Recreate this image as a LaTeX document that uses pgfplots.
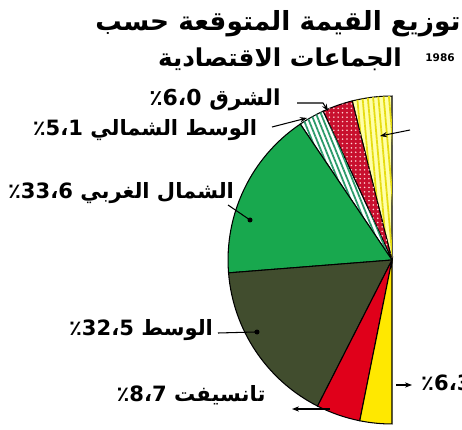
\documentclass[border=0pt]{standalone}
\usepackage{fontspec}
\usepackage{pgfplots}
\usepackage{pgfplotstable}
\pgfplotsset{compat=1.18}
\usetikzlibrary{patterns.meta,arrows.meta}
\TeXXeTstate=1
\newfontfamily\arabicfont[Script=Arabic]{DejaVu Sans}

\definecolor{ylight}{HTML}{FFFFA8}
\definecolor{ystripe}{HTML}{E6DC10}
\definecolor{dotred}{HTML}{C8102E}
\definecolor{tealline}{HTML}{2A9A6A}
\definecolor{pgreen}{HTML}{18A84E}
\definecolor{polive}{HTML}{414D2E}
\definecolor{pred}{HTML}{E0001A}
\definecolor{pyellow}{HTML}{FFE800}

% share of each region, in %, counterclockwise from the top
\pgfplotstableread{
region pct
top      7.8
east     6.0
ncenter  5.1
nwest   33.6
center  32.5
tensift  8.7
south    6.3
}\piedata

% cumulative angles (half pie: 100% = 180 degrees)
\pgfplotstablegetelem{0}{pct}\of\piedata
\pgfmathsetmacro\aB{90+1.8*\pgfplotsretval}
\pgfplotstablegetelem{1}{pct}\of\piedata
\pgfmathsetmacro\aC{\aB+1.8*\pgfplotsretval}
\pgfplotstablegetelem{2}{pct}\of\piedata
\pgfmathsetmacro\aD{\aC+1.8*\pgfplotsretval}
\pgfplotstablegetelem{3}{pct}\of\piedata
\pgfmathsetmacro\aE{\aD+1.8*\pgfplotsretval}
\pgfplotstablegetelem{4}{pct}\of\piedata
\pgfmathsetmacro\aF{\aE+1.8*\pgfplotsretval}
\pgfplotstablegetelem{5}{pct}\of\piedata
\pgfmathsetmacro\aG{\aF+1.8*\pgfplotsretval}
\pgfplotstablegetelem{6}{pct}\of\piedata
\pgfmathsetmacro\aH{\aG+1.8*\pgfplotsretval}
\def\R{3.28cm}

\begin{document}%
\begin{tikzpicture}
\begin{axis}[hide axis, x=0.02cm, y=0.02cm,
  xmin=0, xmax=462, ymin=0, ymax=429,
  clip=false]
\coordinate (bbsw) at (axis cs:0,0);
\coordinate (bbne) at (axis cs:462,429);

% sectors
\filldraw[draw=black, line width=0.6pt, fill=ylight,
  postaction={pattern={Lines[angle=95,distance=3pt,line width=1pt]}, pattern color=ystripe}]
  (axis cs:392,169) -- ++(90:\R) arc[start angle=90, end angle=\aB, radius=\R] -- cycle;
\filldraw[draw=black, line width=0.6pt, fill=dotred,
  postaction={pattern={Dots[distance=2.5pt,radius=0.5pt]}, pattern color=pink!70}]
  (axis cs:392,169) -- ++(\aB:\R) arc[start angle=\aB, end angle=\aC, radius=\R] -- cycle;
\filldraw[draw=black, line width=0.6pt, fill=white,
  postaction={pattern={Lines[angle=112,distance=2.6pt,line width=1pt]}, pattern color=tealline}]
  (axis cs:392,169) -- ++(\aC:\R) arc[start angle=\aC, end angle=\aD, radius=\R] -- cycle;
\filldraw[draw=black, line width=0.6pt, fill=pgreen]
  (axis cs:392,169) -- ++(\aD:\R) arc[start angle=\aD, end angle=\aE, radius=\R] -- cycle;
\filldraw[draw=black, line width=0.6pt, fill=polive]
  (axis cs:392,169) -- ++(\aE:\R) arc[start angle=\aE, end angle=\aF, radius=\R] -- cycle;
\filldraw[draw=black, line width=0.6pt, fill=pred]
  (axis cs:392,169) -- ++(\aF:\R) arc[start angle=\aF, end angle=\aG, radius=\R] -- cycle;
\filldraw[draw=black, line width=0.6pt, fill=pyellow]
  (axis cs:392,169) -- ++(\aG:\R) arc[start angle=\aG, end angle=\aH, radius=\R] -- cycle;

% title
\node[font=\arabicfont\bfseries\fontsize{15}{18}\selectfont] at (axis cs:278,405)
  {\beginR توزيع القيمة المتوقعة حسب\endR};
\node[font=\arabicfont\bfseries\fontsize{14}{18}\selectfont] at (axis cs:280,370)
  {\beginR الجماعات الاقتصادية\endR};
\node[font=\arabicfont\bfseries\fontsize{6}{7}\selectfont] at (axis cs:440,371) {1986};

% labels
\node[font=\arabicfont\bfseries\fontsize{12.5}{14}\selectfont] at (axis cs:215,329)
  {٪6،0 \beginR الشرق\endR};
\node[font=\arabicfont\bfseries\fontsize{12}{14}\selectfont] at (axis cs:145,299)
  {٪5،1 \beginR الوسط الشمالي\endR};
\node[font=\arabicfont\bfseries\fontsize{12}{14}\selectfont] at (axis cs:121,236)
  {٪33،6 \beginR الشمال الغربي\endR};
\node[font=\arabicfont\bfseries\fontsize{12}{14}\selectfont] at (axis cs:141,99)
  {٪32،5 \beginR الوسط\endR};
\node[font=\arabicfont\bfseries\fontsize{12}{14}\selectfont] at (axis cs:191,34)
  {٪8،7 \beginR تانسيفت\endR};
\node[font=\arabicfont\bfseries\fontsize{12}{14}\selectfont, anchor=west] at (axis cs:415,46)
  {٪6،3};

% leaders
\draw[line width=0.6pt, -{Stealth[length=4pt]}] (axis cs:297,326) -- (axis cs:323,326) -- (axis cs:328,318);
\draw[line width=0.6pt, -{Stealth[length=4pt]}] (axis cs:272,302) -- (axis cs:307,311);
\draw[line width=0.6pt] (axis cs:228,224) -- (axis cs:250,209);
\fill (axis cs:250,209) circle[radius=0.05cm];
\draw[line width=0.6pt] (axis cs:218,96) -- (axis cs:255,97);
\fill (axis cs:257,97) circle[radius=0.05cm];
\draw[line width=0.6pt, -{Stealth[length=4pt]}] (axis cs:330,20) -- (axis cs:292,20);
\draw[line width=0.6pt, -{Stealth[length=4pt]}] (axis cs:396,44) -- (axis cs:412,44);
\draw[line width=0.6pt, -{Stealth[length=4pt]}] (axis cs:410,299) -- (axis cs:380,293);
\end{axis}
\pgfresetboundingbox
\path[use as bounding box] (bbsw) rectangle (bbne);
\end{tikzpicture}%
\end{document}
